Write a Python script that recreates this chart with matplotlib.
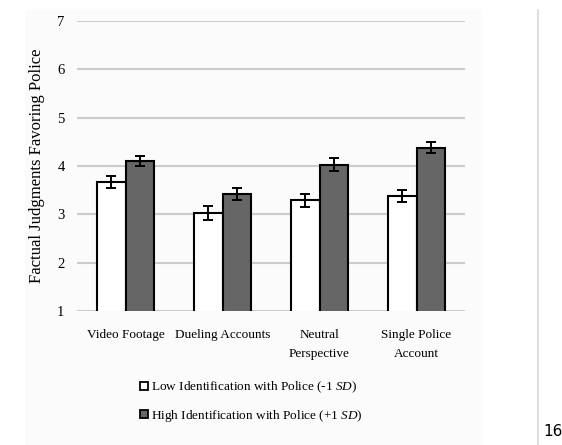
import matplotlib
matplotlib.use("Agg")
import matplotlib.pyplot as plt
import numpy as np
from matplotlib.lines import Line2D
from matplotlib.patches import Rectangle

categories = ["Video Footage", "Dueling Accounts", "Neutral\nPerspective", "Single Police\nAccount"]
low_vals = [3.67, 3.03, 3.29, 3.38]
high_vals = [4.10, 3.42, 4.03, 4.38]
low_err = [0.13, 0.14, 0.13, 0.12]
high_err = [0.11, 0.13, 0.14, 0.12]
yticks = [1, 2, 3, 4, 5, 6, 7]
legend_labels = ["Low Identification with Police (-1 $SD$)",
                 "High Identification with Police (+1 $SD$)"]

plt.rcParams['font.family'] = ['Liberation Serif', 'DejaVu Serif']
plt.rcParams['mathtext.fontset'] = 'custom'
plt.rcParams['mathtext.it'] = 'Liberation Serif:italic'
plt.rcParams['mathtext.rm'] = 'Liberation Serif'

fig = plt.figure(figsize=(5.62, 4.45), dpi=100)
fig.patch.set_facecolor('white')
fig.patches.append(Rectangle((25/562, 0), (482-25)/562, 1 - 10/445, transform=fig.transFigure,
                             facecolor='#fbfbfb', edgecolor='none', zorder=-10))
fig.add_artist(Line2D([538/562, 538/562], [0, 1 - 10/445], transform=fig.transFigure,
                      color='#d8d8d8', lw=1.2))
fig.text(543/562, 1 - 432/445, "16", fontsize=11, family='DejaVu Sans', va='center', ha='left')

ax = fig.add_axes([77/562, 1 - 311/445, (465-77)/562, (311-21)/445])
ax.set_facecolor('none')
x = np.arange(len(categories))
w = 0.29
ax.bar(x - w/2, low_vals, w, bottom=0, color='white', edgecolor='black', linewidth=1.5,
       yerr=low_err, error_kw=dict(ecolor='black', elinewidth=1.4, capsize=3.5, capthick=1.4), zorder=3)
ax.bar(x + w/2, high_vals, w, bottom=0, color='#666666', edgecolor='black', linewidth=1.5,
       yerr=high_err, error_kw=dict(ecolor='black', elinewidth=1.4, capsize=3.5, capthick=1.4), zorder=3)
ax.set_ylim(1, 7)
ax.set_xlim(-0.5, 3.5)
ax.set_yticks(yticks)
ax.set_yticklabels([str(t) for t in yticks], fontsize=10.5)
ax.yaxis.grid(True, color='#cccccc', linewidth=1.5, zorder=0)
ax.set_axisbelow(True)
for s in ax.spines.values():
    s.set_visible(False)
ax.tick_params(axis='y', length=0, pad=9)
ax.tick_params(axis='x', length=0, pad=13)
ax.set_xticks(x)
ax.set_xticklabels(categories, fontsize=9.5, linespacing=1.75)
ax.set_ylabel("Factual Judgments Favoring Police", fontsize=12, labelpad=9)

handles = [Line2D([], [], marker='s', linestyle='none', markersize=5.5, markerfacecolor='white',
                  markeredgecolor='black', markeredgewidth=1.3),
           Line2D([], [], marker='s', linestyle='none', markersize=5.5, markerfacecolor='#666666',
                  markeredgecolor='black', markeredgewidth=1.3)]
fig.legend(handles, legend_labels, loc='upper left', bbox_to_anchor=(140/562, 1 - 380/445),
           frameon=False, fontsize=9.5, handlelength=0.6, handletextpad=0.2, labelspacing=0.95,
           borderaxespad=0, borderpad=0)

fig.savefig("out.png", dpi=100)
